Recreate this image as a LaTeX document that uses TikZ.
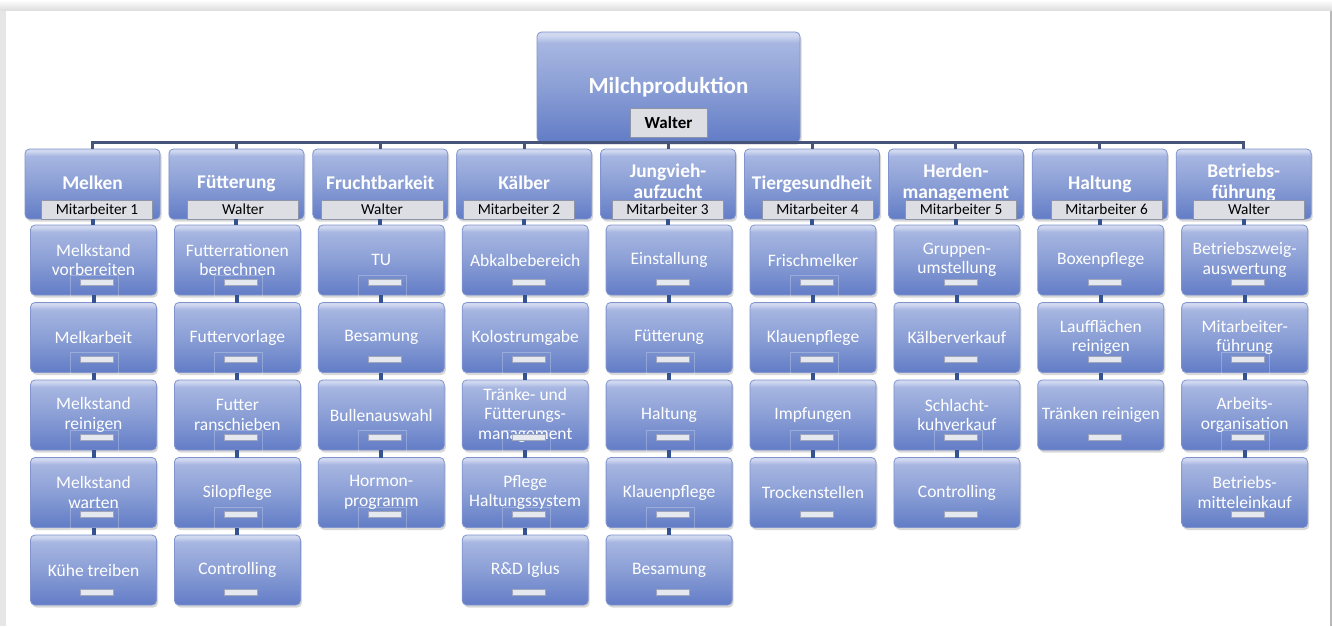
\documentclass[tikz,border=0pt]{standalone}
\usepackage{fontspec}
\setmainfont{Carlito}
\usetikzlibrary{shadows}
\definecolor{boxhi}{HTML}{D0D8F0}
\definecolor{boxup}{HTML}{A7B6E1}
\definecolor{boxmid}{HTML}{8B9FD6}
\definecolor{boxbot}{HTML}{627CC6}
\definecolor{boxedge}{HTML}{8094CE}
\definecolor{connblue}{HTML}{34528F}
\definecolor{barnavy}{HTML}{46547A}
\definecolor{lblfill}{HTML}{DDDEE4}
\definecolor{lblline}{HTML}{8E95A8}
\definecolor{barfill}{HTML}{E6E8EF}
\definecolor{barline2}{HTML}{9FA6BC}
\definecolor{framegray}{HTML}{E6E6E6}
\pgfdeclareverticalshading{orgshade}{100bp}{color(0bp)=(boxbot); color(25bp)=(boxbot);
  color(50bp)=(boxmid); color(70bp)=(boxup); color(73.5bp)=(boxhi); color(75bp)=(boxhi); color(100bp)=(boxhi)}
\tikzset{
 orgbase/.style={rounded corners=4.5pt, shading=orgshade,
   draw=boxedge, line width=0.8pt,
   drop shadow={opacity=0.3, shadow xshift=1.5pt, shadow yshift=-2.5pt},
   inner sep=0pt, outer sep=0pt, align=center, text=white},
 titlebox/.style={orgbase, minimum width=263pt, minimum height=110pt, font=\bfseries\fontsize{23}{27}\selectfont},
 hdrbox/.style={orgbase, minimum width=135pt, minimum height=70pt, font=\bfseries\fontsize{19.4}{20.5}\selectfont},
 childbox/.style={orgbase, minimum width=126pt, minimum height=70pt, font=\fontsize{17.5}{19.5}\selectfont},
 lblbox/.style={fill=lblfill, draw=lblline, line width=0.6pt, inner sep=0pt, outer sep=0pt,
   minimum width=111pt, minimum height=19pt, text=black, font=\fontsize{15.3}{16}\selectfont},
 titlelbl/.style={lblbox, minimum width=77pt, minimum height=29pt, font=\bfseries\fontsize{17}{18}\selectfont},
 namebar/.style={fill=barfill, draw=barline2, line width=0.6pt, inner sep=0pt, outer sep=0pt,
   minimum width=33pt, minimum height=6pt},
 ghostframe/.style={draw=white, draw opacity=0.25, line width=0.5pt, inner sep=0pt, outer sep=0pt,
   minimum width=48pt, minimum height=22pt},
 conn/.style={draw=connblue, line width=4pt},
 mainbar/.style={draw=barnavy, line width=3pt},
}
% child box with its small name bar; #1 name, #2 column x, #3 row y, #4 text
\newcommand\orgchild[4]{%
  \node[childbox] (#1) at (#2+1,#3) {#4};
  \node[namebar] (#1b) at (#2+4.5,#3+22) {};
}
\newcommand\orgghost[3]{%
  \node[ghostframe] (#1g) at (#2+2,#3+26) {};
}
\newcommand\twohead[2]{\raisebox{3pt}{\begin{tabular}{@{}c@{}}#1\\#2\end{tabular}}}
\begin{document}
\begin{tikzpicture}[x=1pt,y=-1pt]
\useasboundingbox (0,0) rectangle (1332,626);
% frame
\fill[framegray] (0,0) rectangle (1332,626);
\shade[top color=white, bottom color=black!14] (0,0) rectangle (1332,11);
\fill[white] (6,11) rectangle (1330,626);
\fill[black!28] (1330,11) rectangle (1332,626);

% title
\node[titlebox] (title) at (668.5,87) {\raisebox{2pt}{Milchproduktion}};
\node[titlelbl] (tl) at (668.5,122.5) {Walter};

% headers
\node[hdrbox] (h0) at (92.5,184) {\raisebox{2pt}{Melken}};
\node[hdrbox] (h1) at (236.4,184) {\raisebox{2pt}{Fütterung}};
\node[hdrbox] (h2) at (380.3,184) {\raisebox{2pt}{Fruchtbarkeit}};
\node[hdrbox] (h3) at (524.2,184) {\raisebox{2pt}{Kälber}};
\node[hdrbox] (h4) at (668.1,184) {\twohead{Jungvieh-}{aufzucht}};
\node[hdrbox] (h5) at (812.0,184) {\raisebox{2pt}{Tiergesundheit}};
\node[hdrbox] (h6) at (955.9,184) {\twohead{Herden-}{management}};
\node[hdrbox] (h7) at (1099.8,184) {\raisebox{2pt}{Haltung}};
\node[hdrbox] (h8) at (1243.7,184) {\twohead{Betriebs-}{führung}};

% header labels
\node[lblbox] (l0) at (97,209.5) {Mitarbeiter 1};
\node[lblbox] (l1) at (243,209.5) {Walter};
\node[lblbox, minimum width=122pt] (l2) at (382,209.5) {Walter};
\node[lblbox] (l3) at (519,209.5) {Mitarbeiter 2};
\node[lblbox] (l4) at (667.5,209.5) {Mitarbeiter 3};
\node[lblbox] (l5) at (817.5,209.5) {Mitarbeiter 4};
\node[lblbox] (l6) at (961,209.5) {Mitarbeiter 5};
\node[lblbox] (l7) at (1106.5,209.5) {Mitarbeiter 6};
\node[lblbox] (l8) at (1249,209.5) {Walter};

% column 0
\orgchild{c00}{92.5}{260}{Melkstand\\vorbereiten}
\orgchild{c01}{92.5}{337.5}{Melkarbeit}
\orgchild{c02}{92.5}{415}{Melkstand\\reinigen}
\orgchild{c03}{92.5}{492.5}{Melkstand\\warten}
\orgchild{c04}{92.5}{570}{Kühe treiben}
% column 1
\orgchild{c10}{236.4}{260}{Futterrationen\\berechnen}
\orgchild{c11}{236.4}{337.5}{Futtervorlage}
\orgchild{c12}{236.4}{415}{Futter\\ranschieben}
\orgchild{c13}{236.4}{492.5}{Silopflege}
\orgchild{c14}{236.4}{570}{Controlling}
% column 2
\orgchild{c20}{380.3}{260}{TU}
\orgchild{c21}{380.3}{337.5}{Besamung}
\orgchild{c22}{380.3}{415}{Bullenauswahl}
\orgchild{c23}{380.3}{492.5}{Hormon-\\programm}
% column 3
\orgchild{c30}{524.2}{260}{Abkalbebereich}
\orgchild{c31}{524.2}{337.5}{Kolostrumgabe}
\orgchild{c32}{524.2}{415}{Tränke- und\\Fütterungs-\\management}
\orgchild{c33}{524.2}{492.5}{Pflege\\Haltungssystem}
\orgchild{c34}{524.2}{570}{R\&D Iglus}
% column 4
\orgchild{c40}{668.1}{260}{Einstallung}
\orgchild{c41}{668.1}{337.5}{Fütterung}
\orgchild{c42}{668.1}{415}{Haltung}
\orgchild{c43}{668.1}{492.5}{Klauenpflege}
\orgchild{c44}{668.1}{570}{Besamung}
% column 5
\orgchild{c50}{812.0}{260}{Frischmelker}
\orgchild{c51}{812.0}{337.5}{Klauenpflege}
\orgchild{c52}{812.0}{415}{Impfungen}
\orgchild{c53}{812.0}{492.5}{Trockenstellen}
% column 6
\orgchild{c60}{955.9}{260}{Gruppen-\\umstellung}
\orgchild{c61}{955.9}{337.5}{Kälberverkauf}
\orgchild{c62}{955.9}{415}{Schlacht-\\kuhverkauf}
\orgchild{c63}{955.9}{492.5}{Controlling}
% column 7
\orgchild{c70}{1099.8}{260}{Boxenpflege}
\orgchild{c71}{1099.8}{337.5}{Laufflächen\\reinigen}
\orgchild{c72}{1099.8}{415}{Tränken reinigen}
% column 8
\orgchild{c80}{1243.7}{260}{Betriebszweig-\\auswertung}
\orgchild{c81}{1243.7}{337.5}{Mitarbeiter-\\führung}
\orgchild{c82}{1243.7}{415}{Arbeits-\\organisation}
\orgchild{c83}{1243.7}{492.5}{Betriebs-\\mitteleinkauf}

% faint empty text frames round the name bars
\orgghost{c00}{92.5}{260}\orgghost{c01}{92.5}{337.5}\orgghost{c02}{92.5}{415}\orgghost{c03}{92.5}{492.5}
\orgghost{c10}{236.4}{260}\orgghost{c11}{236.4}{337.5}\orgghost{c12}{236.4}{415}\orgghost{c13}{236.4}{492.5}
\orgghost{c20}{380.3}{260}\orgghost{c22}{380.3}{415}\orgghost{c23}{380.3}{492.5}
\orgghost{c31}{524.2}{337.5}\orgghost{c32}{524.2}{415}\orgghost{c33}{524.2}{492.5}
\orgghost{c41}{668.1}{337.5}\orgghost{c42}{668.1}{415}\orgghost{c43}{668.1}{492.5}
\orgghost{c50}{812.0}{260}\orgghost{c51}{812.0}{337.5}\orgghost{c52}{812.0}{415}
\orgghost{c62}{955.9}{415}
\orgghost{c81}{1243.7}{337.5}\orgghost{c82}{1243.7}{415}

% main bar
\draw[mainbar] (h0.north) -- (h0.north |- title.south) -- (h8.north |- title.south) -- (h8.north);
\foreach \i in {1,...,7} {\draw[mainbar] (h\i.north) -- (h\i.north |- title.south);}

% column connectors
\foreach \i/\n in {0/4,1/4,2/3,3/4,4/4,5/3,6/3,7/2,8/3} {
  \draw[conn] (h\i.south) -- (h\i.south |- c\i0.north);
  \pgfmathtruncatemacro\m{\n-1}
  \foreach \j in {0,...,\m} {
    \pgfmathtruncatemacro\k{\j+1}
    \draw[conn] (c\i\j.south) -- (c\i\k.north);
  }
}
\end{tikzpicture}
\end{document}
